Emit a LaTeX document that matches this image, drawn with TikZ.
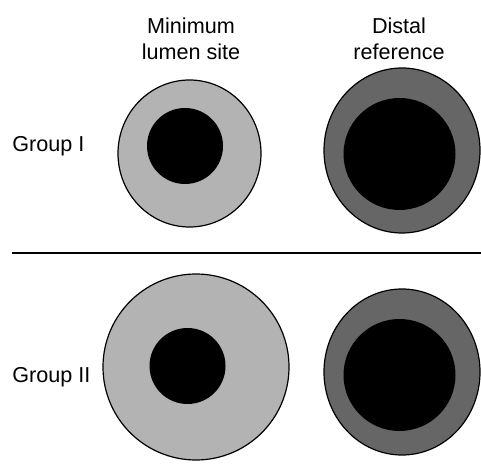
\documentclass[tikz,border=0pt]{standalone}
\usepackage{fontspec}
\setmainfont{Liberation Sans}
\usepackage{tikz}
\definecolor{plaque}{RGB}{179,179,179}
\definecolor{vessel}{RGB}{102,102,102}

\begin{document}
\begin{tikzpicture}[x=0.5pt,y=-0.5pt]
\tikzstyle{head}=[font=\fontsize{10.8}{13}\selectfont, align=center, inner sep=0pt]
\tikzstyle{group}=[font=\fontsize{10.8}{13}\selectfont, anchor=base west, inner sep=0pt]
\tikzstyle{wall}=[draw=black, line width=0.6pt]
\useasboundingbox (0,0) rectangle (481,464);

\node[head] (mls) at (191,39) {Minimum\\lumen site};
\node[head] (dref) at (399,39) {Distal\\reference};
\node[group] (g1) at (12,152) {Group I};
\node[group] (g2) at (12,382) {Group II};

% group I
\draw[wall, fill=plaque] (189.5,153.5) ellipse [x radius=71.5, y radius=73.5];
\fill[black] (185,146) circle [radius=38];
\draw[wall, fill=vessel] (402,150.5) ellipse [x radius=78, y radius=82.5];
\fill[black] (399.5,154) circle [radius=56];

% divider
\coordinate (ruleL) at (12,253);
\coordinate (ruleR) at (481,253);
\draw[line width=0.9pt] (ruleL) -- (ruleR);

% group II
\draw[wall, fill=plaque] (196,367) ellipse [x radius=93, y radius=93];
\fill[black] (187.5,366) circle [radius=38];
\draw[wall, fill=vessel] (402,372) ellipse [x radius=78, y radius=83];
\fill[black] (399.5,375) circle [radius=56];

\end{tikzpicture}
\end{document}
